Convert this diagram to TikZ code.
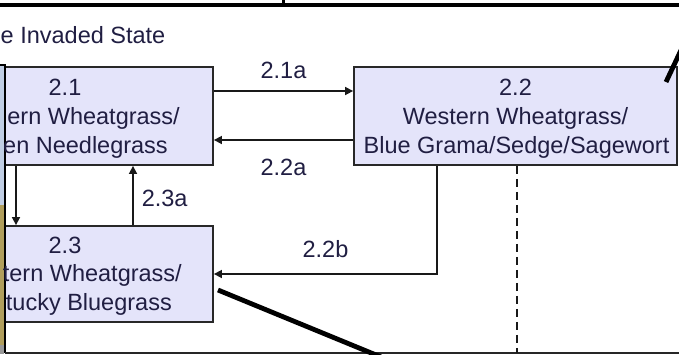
\documentclass[tikz,border=0pt]{standalone}
\usepackage{fontspec}
\setmainfont{Liberation Sans}
\usetikzlibrary{arrows.meta,calc}
\definecolor{boxfill}{RGB}{228,228,250}
\definecolor{txt}{RGB}{32,30,66}
\definecolor{edge}{RGB}{40,40,40}
\definecolor{stripblue}{RGB}{192,206,228}
\definecolor{striptan}{RGB}{176,158,92}
\tikzset{
  box/.style={draw=edge, line width=1.8pt, fill=boxfill, inner sep=0pt},
  tx/.style={text=txt, inner sep=0pt, font=\fontsize{23.5}{29}\selectfont},
  conn/.style={draw=black!90, line width=1.6pt},
  arr/.style={conn, -{Triangle[length=8pt,width=8pt]}},
  heavy/.style={draw=black, line width=4.8pt},
}
\begin{document}
\begin{tikzpicture}[x=1pt,y=-1pt]
\useasboundingbox (0,0) rectangle (679,354);
\clip (0,0) rectangle (679,354);
% left strip (edge of neighbouring picture)
\fill[stripblue] (0,65) rectangle (4,205);
\fill[striptan] (0,205) rectangle (4,345);
\fill[black!40] (0,345) rectangle (4,354);
% boxes
\node[box, minimum width=208pt, minimum height=98pt] (b21) at (109,116) {};
\node[box, minimum width=323pt, minimum height=98pt] (b22) at (515.5,116) {};
\node[box, minimum width=208pt, minimum height=96pt] (b23) at (109,274) {};
% frame lines
\coordinate (ftl) at (0,65);
\coordinate (ftc) at (5,65);
\coordinate (fbl) at (5,352.5);
\coordinate (fbr) at (679,352.5);
\draw[black, line width=2.4pt] (ftl) -- (ftc) -- (fbl);
\draw[black!85, line width=2pt] (fbl) -- (fbr);
\coordinate (tl) at (0,5);
\coordinate (tr) at (679,5);
\coordinate (tick) at (283,0);
\draw[heavy, line width=4.5pt] (tl) -- (tr);
\draw[black, line width=3pt] (tick) -- (tick |- tl);
% texts
\node[tx, anchor=base west] (title) at (0.5,43) {e Invaded State};
\node[tx, anchor=base] (t21a) at (65,95) {2.1};
\node[tx, anchor=base east] (t21b) at (180,124) {ern Wheatgrass/};
\node[tx, anchor=base east] (t21c) at (168,153) {en Needlegrass};
\node[tx, anchor=base] (t22a) at (515.5,95) {2.2};
\node[tx, anchor=base] (t22b) at (515.5,124) {Western Wheatgrass/};
\node[tx, anchor=base] (t22c) at (516.5,153) {Blue Grama/Sedge/Sagewort};
\node[tx, anchor=base] (t23a) at (65,253) {2.3};
\node[tx, anchor=base east] (t23b) at (182,281) {tern Wheatgrass/};
\node[tx, anchor=base east] (t23c) at (172,310) {tucky Bluegrass};
% connectors
\draw[arr] ([yshift=25pt]b21.east) -- ([yshift=25pt]b22.west)
  node[tx, midway, above=11pt] (l21a) {2.1a};
\draw[arr] ([yshift=-24pt]b22.west) -- ([yshift=-24pt]b21.east)
  node[tx, midway, below=18pt] (l22a) {2.2a};
\draw[arr] ([xshift=-78.5pt]b22.south) |- (b23.east)
  node[tx, pos=0.75, above=15pt] (l22b) {2.2b};
\draw[conn, dashed, dash pattern=on 8pt off 5pt, line width=2.2pt] ([xshift=1.5pt]b22.south) -- ([xshift=1.5pt]b22.south |- fbl);
\draw[arr] ([xshift=24pt]b23.north) -- ([xshift=24pt]b23.north |- b21.south)
  node[tx, pos=0.45, right=8pt] (l23a) {2.3a};
\draw[arr] ([xshift=-93pt]b21.south) -- ([xshift=-93pt]b21.south |- b23.north);
% heavy diagonal pointers
\coordinate (d1s) at (218,290);
\coordinate (d1e) at (381,357);
\draw[heavy] (d1s) -- (d1e);
\coordinate (d2s) at (666,82);
\coordinate (d2e) at (682,48);
\draw[heavy] (d2s) -- (d2e);
\end{tikzpicture}
\end{document}
